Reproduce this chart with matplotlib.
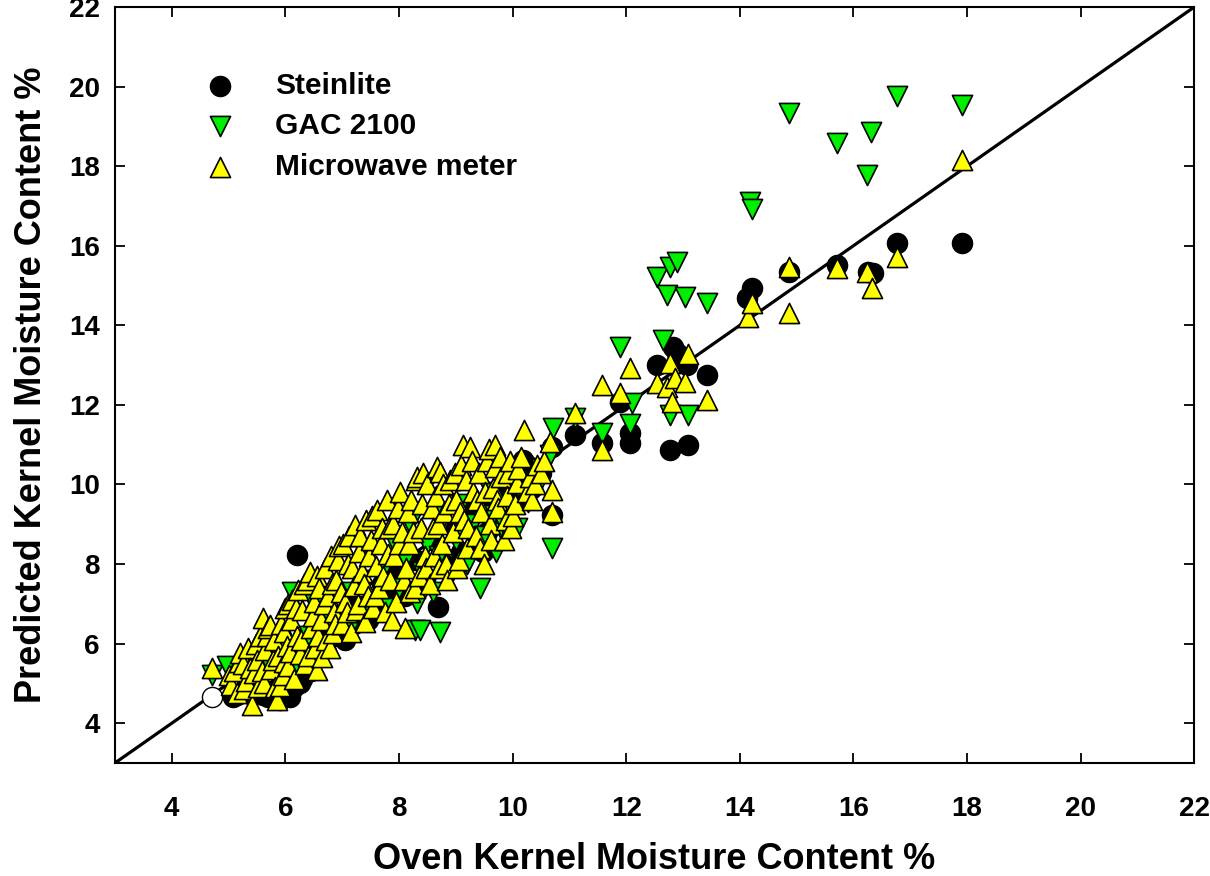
import matplotlib
matplotlib.use("Agg")
import matplotlib.pyplot as plt

plt.rcParams['font.family'] = ['Liberation Sans', 'DejaVu Sans']
plt.rcParams['font.weight'] = 'bold'

# Steinlite readings (oven %, predicted %)
stein_x = [5.08, 5.15, 5.2, 5.25, 5.35, 5.42, 5.5, 5.6, 5.7, 5.75, 5.8, 5.9, 6.0, 6.08,
           6.15, 6.2, 6.26, 6.3, 6.35, 6.45, 6.5, 6.6, 6.7, 6.85, 6.95, 7.05, 7.2, 7.3,
           7.45, 7.6, 7.7, 7.85, 8.0, 8.1, 8.3, 8.45, 8.6, 8.69, 8.8, 9.0, 9.1, 9.25,
           9.3, 9.4, 9.48, 9.55, 9.6, 9.7, 9.75, 9.85, 9.9, 10.0, 10.1, 10.18, 10.25,
           10.3, 10.35, 10.43, 10.5, 10.69, 10.69, 11.1, 11.58, 11.89, 12.07, 12.07,
           12.54, 12.77, 12.83, 12.9, 13.07, 13.09, 13.42, 14.13, 14.22, 14.87, 15.71,
           16.26, 16.35, 16.77, 17.91]
stein_y = [4.66, 4.7, 4.9, 4.8, 4.75, 4.7, 5.0, 4.7, 4.65, 4.85, 4.95, 4.58, 4.75, 4.66,
           4.9, 8.23, 5.01, 5.1, 5.4, 5.3, 5.7, 6.3, 5.9, 6.2, 6.6, 6.1, 6.5, 7.1,
           6.6, 6.9, 7.5, 7.2, 7.8, 7.2, 8.1, 7.6, 8.6, 6.92, 8.0, 8.9, 8.3, 9.3,
           8.4, 8.6, 8.3, 8.8, 9.5, 9.6, 9.0, 9.2, 9.8, 9.5, 10.2, 10.61, 10.5,
           10.1, 9.9, 10.29, 10.3, 10.94, 9.23, 11.24, 11.04, 12.07, 11.29, 11.04,
           13.0, 10.87, 13.45, 13.3, 13.0, 10.99, 12.75, 14.69, 14.94, 15.34, 15.52,
           15.34, 15.32, 16.07, 16.07]

# GAC 2100 readings
gac_x = [4.71, 4.97, 5.3, 5.6, 5.9, 6.12, 6.2, 6.4, 6.5, 6.7, 6.8, 7.0, 7.1, 7.3, 7.4,
         7.5, 7.6, 7.7, 7.84, 7.9, 8.0, 8.1, 8.2, 8.28, 8.32, 8.37, 8.4, 8.5, 8.6, 8.72,
         8.7, 8.8, 8.9, 9.0, 9.1, 9.2, 9.3, 9.43, 9.5, 9.6, 9.66, 9.7, 9.83, 9.87, 9.9,
         10.07, 10.0, 10.27, 10.43, 10.5, 10.66, 10.69, 10.71, 11.1, 11.58, 11.89, 12.07,
         12.1, 12.54, 12.65, 12.72, 12.77, 12.77, 12.9, 13.04, 13.09, 13.42, 14.18, 14.22,
         14.87, 15.71, 16.24, 16.31, 16.77, 17.91]
gac_y = [5.21, 5.45, 5.1, 5.5, 6.0, 7.3, 5.5, 6.2, 7.0, 5.8, 6.6, 7.3, 6.3, 7.6, 6.8,
         8.3, 7.1, 7.8, 6.9, 8.6, 7.4, 8.1, 9.0, 6.34, 7.02, 6.34, 7.8, 8.5, 7.3, 6.29,
         8.2, 9.2, 7.7, 8.6, 9.5, 8.0, 9.0, 7.4, 8.7, 9.8, 9.23, 8.3, 8.78, 8.93, 9.4,
         8.9, 10.1, 9.56, 9.94, 10.4, 10.74, 8.4, 11.42, 11.67, 11.29, 13.45, 11.52,
         12.05, 15.21, 13.63, 14.76, 15.47, 11.75, 15.59, 14.71, 11.75, 14.56, 17.1, 16.92,
         19.34, 18.58, 17.78, 18.86, 19.76, 19.54]

# Microwave meter readings
mw_x = [4.71, 5.0, 5.05, 5.1, 5.15, 5.18, 5.2, 5.25, 5.28, 5.3, 5.35, 5.38, 5.41, 5.45,
        5.48, 5.5, 5.52, 5.55, 5.58, 5.6, 5.62, 5.65, 5.68, 5.7, 5.73, 5.75, 5.78, 5.8,
        5.82, 5.85, 5.87, 5.9, 5.92, 5.95, 5.97, 5.98, 6.0, 6.02, 6.05, 6.05, 6.08, 6.1,
        6.12, 6.15, 6.18, 6.2, 6.22, 6.25, 6.28, 6.3, 6.32, 6.35, 6.38, 6.4, 6.43, 6.45,
        6.48, 6.5, 6.52, 6.55, 6.56, 6.58, 6.6, 6.62, 6.64, 6.68, 6.7, 6.72, 6.75, 6.78,
        6.8, 6.82, 6.84, 6.85, 6.88, 6.9, 6.92, 6.95, 6.98, 7.0, 7.02, 7.05, 7.08, 7.1,
        7.12, 7.15, 7.18, 7.2, 7.23, 7.25, 7.28, 7.3, 7.32, 7.35, 7.38, 7.4, 7.42, 7.45,
        7.48, 7.5, 7.52, 7.55, 7.58, 7.6, 7.62, 7.65, 7.68, 7.7, 7.72, 7.75, 7.79, 7.8,
        7.82, 7.85, 7.88, 7.9, 7.92, 7.95, 7.98, 8.0, 8.02, 8.05, 8.08, 8.1, 8.12, 8.15,
        8.18, 8.2, 8.22, 8.25, 8.28, 8.3, 8.32, 8.35, 8.38, 8.4, 8.42, 8.45, 8.48, 8.5,
        8.55, 8.58, 8.6, 8.62, 8.65, 8.67, 8.68, 8.7, 8.72, 8.75, 8.78, 8.8, 8.82, 8.85,
        8.88, 8.9, 8.95, 8.98, 9.0, 9.02, 9.05, 9.08, 9.1, 9.13, 9.15, 9.18, 9.2, 9.22,
        9.25, 9.28, 9.3, 9.35, 9.38, 9.4, 9.42, 9.45, 9.5, 9.52, 9.55, 9.58, 9.6, 9.62,
        9.65, 9.69, 9.69, 9.72, 9.75, 9.78, 9.8, 9.85, 9.88, 9.9, 9.92, 9.95, 9.98, 10.0,
        10.05, 10.07, 10.1, 10.15, 10.2, 10.25, 10.3, 10.35, 10.4, 10.43, 10.5, 10.55,
        10.66, 10.69, 10.69, 11.1, 11.58, 11.58, 11.89, 12.07, 12.54, 12.72, 12.77, 12.8,
        12.86, 13.04, 13.09, 13.42, 14.15, 14.22, 14.87, 14.87, 15.71, 16.24, 16.33,
        16.77, 17.91]
mw_y = [5.39, 5.2, 4.95, 5.3, 4.76, 5.55, 5.76, 5.5, 4.85, 5.05, 5.9, 5.4, 4.46, 5.25,
        6.0, 5.6, 4.9, 6.2, 5.3, 6.64, 5.0, 5.85, 6.2, 6.4, 6.47, 5.35, 5.6, 6.1,
        4.9, 4.58, 5.7, 4.94, 6.5, 5.2, 6.3, 5.55, 6.9, 5.95, 5.45, 7.0, 5.8, 6.6,
        7.1, 5.1, 6.9, 6.2, 7.35, 5.75, 6.1, 6.85, 7.5, 5.5, 7.6, 5.7, 7.8, 6.4,
        6.7, 7.05, 5.9, 7.7, 5.34, 6.2, 7.4, 6.6, 5.66, 7.0, 7.9, 6.1, 7.2, 5.9,
        8.2, 7.5, 6.27, 6.8, 6.5, 7.6, 8.1, 8.45, 7.3, 6.5, 8.5, 7.05, 6.8, 8.0,
        8.7, 6.3, 7.9, 7.45, 8.98, 6.85, 7.0, 8.3, 8.7, 7.8, 7.5, 6.55, 9.1, 7.2,
        8.2, 8.6, 9.2, 6.9, 7.2, 7.95, 9.35, 7.4, 8.5, 8.9, 7.7, 6.8, 9.61, 8.25,
        8.9, 7.6, 6.6, 9.0, 8.2, 7.05, 9.4, 8.5, 9.8, 8.8, 7.6, 6.39, 7.9, 9.3,
        8.5, 7.3, 9.6, 8.8, 7.4, 10.1, 10.19, 7.7, 8.9, 9.5, 10.3, 8.2, 7.9, 10.0,
        7.5, 9.4, 8.9, 8.2, 9.7, 10.44, 9.0, 7.9, 10.31, 8.5, 10.0, 9.3, 8.0, 7.6,
        9.5, 10.1, 8.8, 10.3, 9.6, 7.9, 8.1, 9.3, 10.5, 10.99, 9.1, 10.1, 8.4, 8.9,
        10.94, 10.6, 9.8, 8.7, 9.6, 10.3, 8.4, 9.3, 8.0, 9.8, 10.6, 10.9, 9.0, 8.6,
        9.9, 10.99, 10.44, 9.6, 9.4, 10.7, 10.2, 8.6, 9.1, 9.7, 10.3, 10.6, 8.9, 9.2,
        9.5, 10.04, 10.4, 10.7, 11.37, 9.8, 10.2, 9.6, 10.0, 10.49, 10.3, 10.6,
        11.07, 9.86, 9.3, 11.8, 12.5, 10.87, 12.3, 12.93, 12.55, 12.45, 13.05, 12.07,
        12.67, 12.58, 13.28, 12.12, 14.21, 14.56, 15.46, 14.31, 15.44, 15.34, 14.94,
        15.72, 18.15]

# single hollow reading at the low end
open_x = [4.71]
open_y = [4.66]

ticks = [4, 6, 8, 10, 12, 14, 16, 18, 20, 22]

fig = plt.figure(figsize=(12.1, 8.76), dpi=100)
ax = fig.add_axes([0.095, 0.129, 0.892, 0.863])

ax.plot([3, 22], [3, 22], color='black', lw=2.3, zorder=1)

ax.scatter(stein_x, stein_y, s=210, marker='o', c='black', edgecolors='black',
           linewidths=1.0, label='Steinlite', zorder=2)
ax.scatter(open_x, open_y, s=210, marker='o', facecolors='white', edgecolors='black',
           linewidths=1.0, zorder=2)
ax.scatter(gac_x, gac_y, s=210, marker='v', c='#00ee00', edgecolors='black',
           linewidths=1.2, label='GAC 2100', zorder=3)
ax.scatter(mw_x, mw_y, s=210, marker='^', c='#ffff00', edgecolors='black',
           linewidths=1.2, label='Microwave meter', zorder=4)

ax.set_xlim(3, 22)
ax.set_ylim(3, 22)
ax.set_xticks(ticks)
ax.set_yticks(ticks)
ax.tick_params(direction='in', length=7, width=1.3, labelsize=20,
               top=True, right=True)
ax.tick_params(axis='x', pad=24)
ax.tick_params(axis='y', pad=11)
for lab in ax.get_xticklabels() + ax.get_yticklabels():
    lab.set_fontweight('bold')
for sp in ax.spines.values():
    sp.set_linewidth(1.5)

ax.set_xlabel('Oven Kernel Moisture Content %', fontsize=26, fontweight='bold', labelpad=14)
ax.set_ylabel('Predicted Kernel Moisture Content %', fontsize=26, fontweight='bold', labelpad=14)

leg = ax.legend(loc='upper left', bbox_to_anchor=(0.045, 0.95), frameon=False,
                fontsize=21.5, markerscale=1.0, handlelength=2.0, handletextpad=0.83,
                labelspacing=0.42, borderpad=0.4, scatterpoints=1)
for t in leg.get_texts():
    t.set_fontweight('bold')

fig.savefig('out.png', dpi=100)
